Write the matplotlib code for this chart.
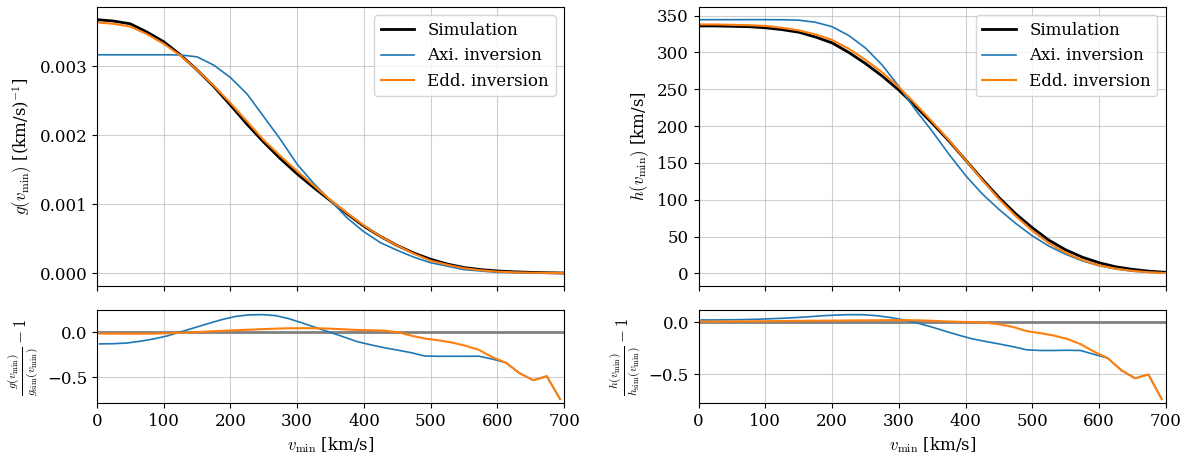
import matplotlib
matplotlib.use("Agg")
import matplotlib.pyplot as plt
import numpy as np

plt.rcParams['font.family'] = 'serif'
plt.rcParams['font.serif'] = ['DejaVu Serif']
plt.rcParams['mathtext.fontset'] = 'cm'
plt.rcParams['font.size'] = 12

# vmin grid of the upper panels [km/s]
v = [0, 25, 50, 75, 100, 125, 150, 175, 200, 225, 250, 275, 300, 325, 350,
     375, 400, 425, 450, 475, 500, 525, 550, 575, 600, 625, 650, 675, 700]

g_sim = [0.00368, 0.00366, 0.00362, 0.00350, 0.00336, 0.00317, 0.00295, 0.00271,
         0.00244, 0.00216, 0.00190, 0.00166, 0.00144, 0.00124, 0.00105, 0.00086,
         0.00068, 0.00053, 0.00040, 0.00029, 0.00020, 0.00013, 0.00008, 0.00005,
         0.00003, 0.000018, 0.00001, 0.000004, 0.0]
g_axi = [0.00317, 0.00317, 0.00317, 0.00317, 0.00317, 0.003168, 0.00314, 0.00302,
         0.00284, 0.00260, 0.00227, 0.00194, 0.00158, 0.00130, 0.00105, 0.00080,
         0.00060, 0.00044, 0.00033, 0.00023, 0.00015, 0.00010, 0.00005, 0.00003,
         0.00001, 0.000006, 0.000003, 0.000001, 0.0]
g_edd = [0.00364, 0.00362, 0.00358, 0.00347, 0.00333, 0.00316, 0.00295, 0.00272,
         0.00247, 0.00220, 0.00193, 0.00170, 0.00148, 0.00127, 0.00106, 0.00087,
         0.00069, 0.00053, 0.00040, 0.00028, 0.00018, 0.00012, 0.00007, 0.00004,
         0.00002, 0.00001, 0.000005, 0.000002, 0.0]

h_sim = [336, 336, 335.5, 335, 333.5, 331, 327.5, 321, 313, 300, 285, 268, 249, 227,
         204, 180, 154, 128, 103, 81, 62, 45, 32, 22, 14.5, 9, 5.5, 3, 1.5]
h_axi = [344.5, 344.5, 344.5, 344.5, 344.5, 344.4, 343.8, 341, 335, 323, 306, 283,
         254, 222, 193, 162, 133, 108, 87, 68, 51, 37, 26, 17, 10.5, 6, 3, 1.5, 0.5]
h_edd = [338, 338, 337.5, 337, 336, 333.5, 330, 324.5, 317, 305, 290, 273, 253, 230,
         206, 181, 154, 127, 101, 78, 58, 41, 28, 18, 11, 6.5, 3.5, 1.5, 0.5]

# vmin grid of the ratio panels [km/s]
v_r = [4, 24, 45, 65, 85, 106, 126, 146, 166, 187, 207, 227, 248, 268, 288, 309, 329,
       349, 369, 390, 410, 430, 451, 471, 491, 512, 532, 552, 572, 593, 613, 633,
       654, 674, 694]

rg_axi = [-0.13, -0.128, -0.12, -0.10, -0.075, -0.04, 0.005, 0.05, 0.095, 0.14,
          0.175, 0.193, 0.196, 0.185, 0.15, 0.10, 0.05, 0.0, -0.05, -0.105, -0.14,
          -0.172, -0.2, -0.228, -0.265, -0.268, -0.268, -0.268, -0.267, -0.30,
          -0.34, -0.455, -0.535, -0.49, -0.745]
rg_edd = [-0.015, -0.016, -0.017, -0.017, -0.016, -0.012, -0.006, 0.0, 0.008, 0.015,
          0.022, 0.028, 0.034, 0.04, 0.044, 0.045, 0.044, 0.04, 0.033, 0.025, 0.022,
          0.018, 0.0, -0.038, -0.07, -0.09, -0.115, -0.15, -0.195, -0.28, -0.34,
          -0.455, -0.535, -0.49, -0.745]
rh_axi = [0.022, 0.022, 0.023, 0.025, 0.028, 0.033, 0.038, 0.045, 0.053, 0.063,
          0.069, 0.073, 0.072, 0.062, 0.045, 0.02, -0.01, -0.045, -0.085, -0.125,
          -0.16, -0.185, -0.21, -0.235, -0.265, -0.272, -0.272, -0.27, -0.272,
          -0.31, -0.345, -0.46, -0.54, -0.503, -0.74]
rh_edd = [0.006, 0.006, 0.007, 0.008, 0.009, 0.01, 0.012, 0.013, 0.014, 0.015, 0.016,
          0.017, 0.018, 0.019, 0.02, 0.02, 0.018, 0.014, 0.008, 0.004, 0.0, -0.005,
          -0.02, -0.045, -0.085, -0.105, -0.128, -0.16, -0.21, -0.285, -0.345,
          -0.46, -0.54, -0.503, -0.74]

fig, axs = plt.subplots(2, 2, sharex=True, figsize=(11.91, 4.58), dpi=100,
                        gridspec_kw={'height_ratios': [3, 1]})
fig.subplots_adjust(left=0.0814, right=0.9788, top=0.9847, bottom=0.1194,
                    hspace=0.133, wspace=0.288)

tops = [(g_sim, g_axi, g_edd, r'$g(v_\mathrm{min})$ [(km/s)$^{-1}$]'),
        (h_sim, h_axi, h_edd, r'$h(v_\mathrm{min})$ [km/s]')]
bots = [(rg_axi, rg_edd, r'$\frac{g(v_\mathrm{min})}{g_\mathrm{sim}(v_\mathrm{min})} - 1$'),
        (rh_axi, rh_edd, r'$\frac{h(v_\mathrm{min})}{h_\mathrm{sim}(v_\mathrm{min})} - 1$')]

for col in range(2):
    ax = axs[0, col]
    sim, axi, edd, lab = tops[col]
    ax.plot(v, sim, color='black', lw=2, label='Simulation')
    ax.plot(v, axi, color='C0', lw=1.2, label='Axi. inversion')
    ax.plot(v, edd, color='C1', lw=1.5, label='Edd. inversion')
    ax.set_ylabel(lab)
    ax.grid(True, alpha=0.6)
    ax.legend(loc='upper right')

    ax = axs[1, col]
    axi, edd, lab = bots[col]
    ax.axhline(0, color='gray', lw=2)
    ax.plot(v_r, axi, color='C0', lw=1.2)
    ax.plot(v_r, edd, color='C1', lw=1.5)
    ax.set_ylabel(lab)
    ax.set_yticks([-0.5, 0.0])
    ax.grid(True, alpha=0.6)
    ax.set_xlabel(r'$v_\mathrm{min}$ [km/s]')

axs[0, 1].set_yticks([0, 50, 100, 150, 200, 250, 300, 350])
axs[1, 0].set_xlim(0, 700)
axs[1, 0].set_xticks([0, 100, 200, 300, 400, 500, 600, 700])

fig.savefig('out.png', dpi=100)
